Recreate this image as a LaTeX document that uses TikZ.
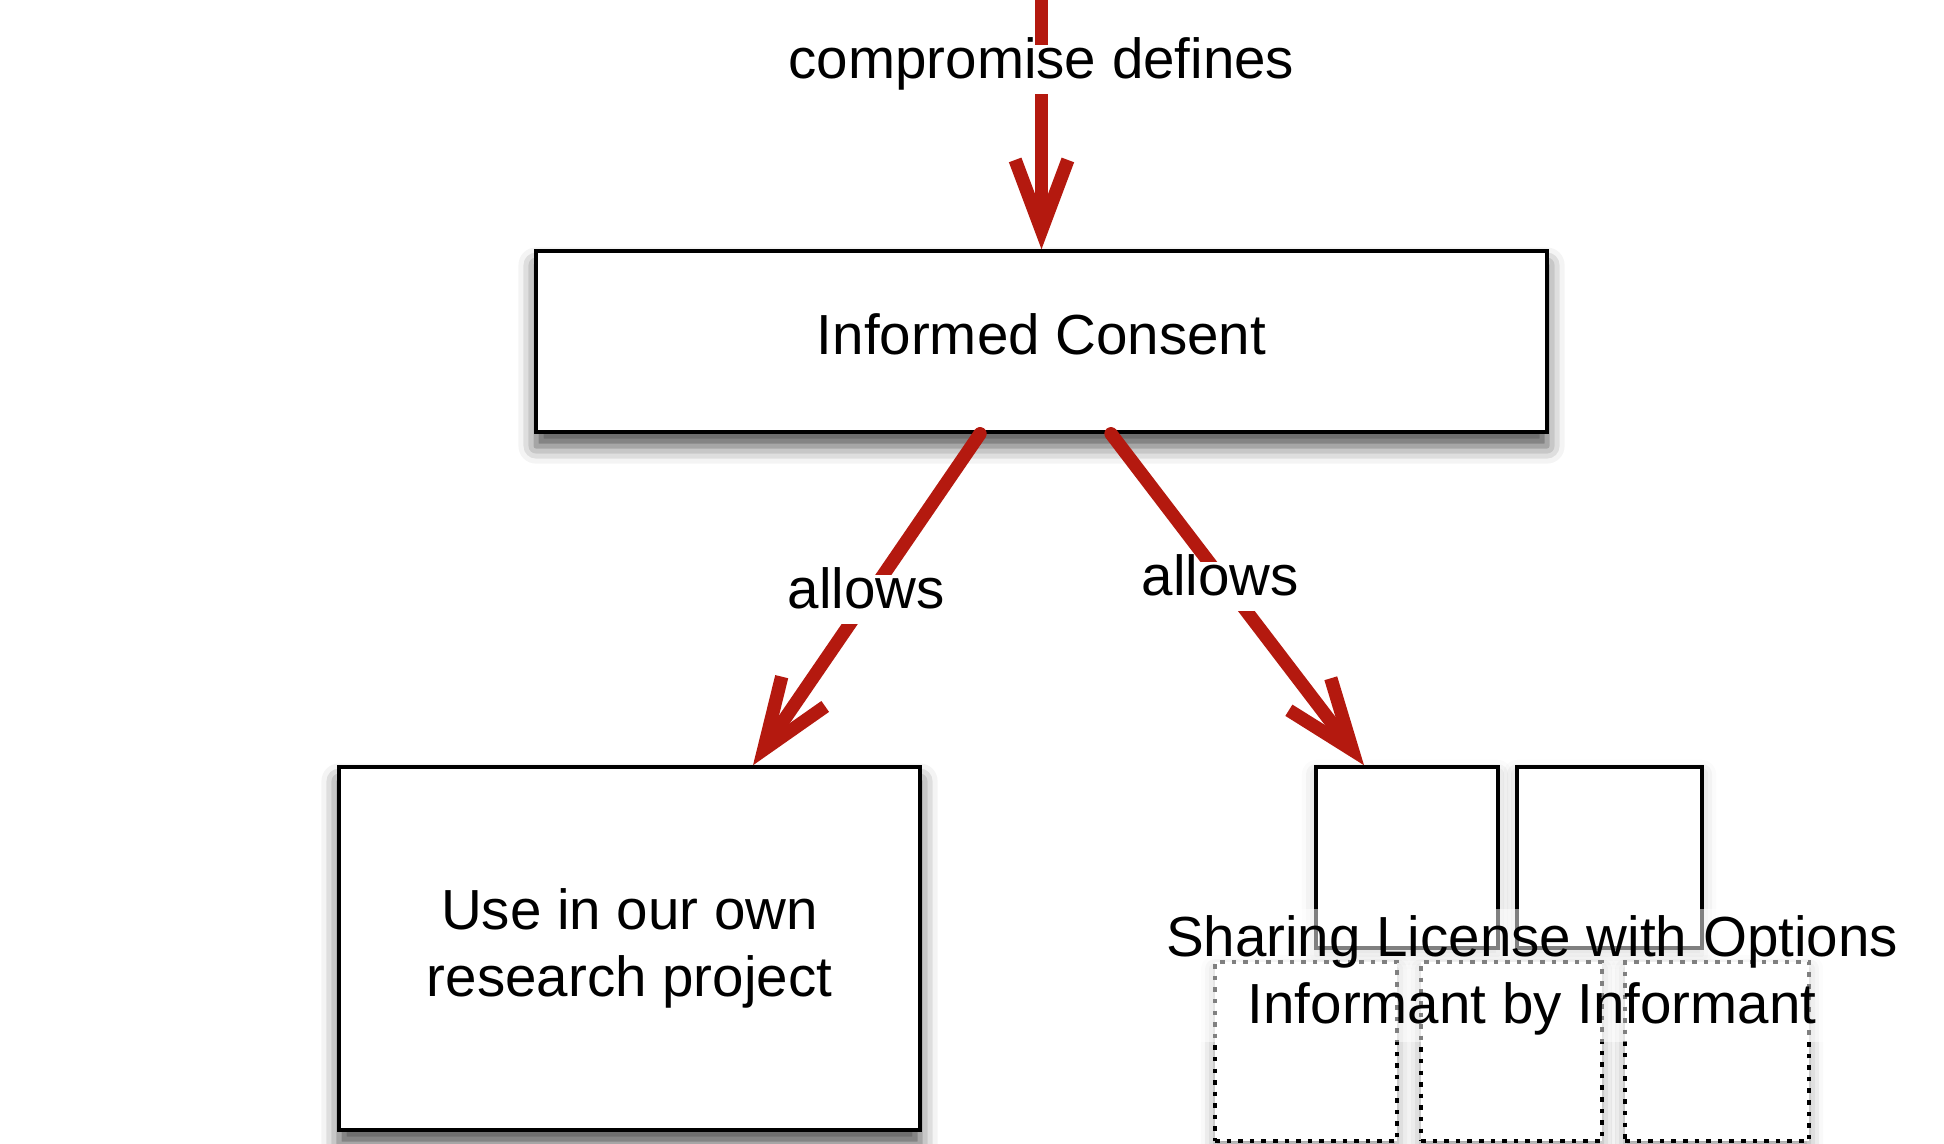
\documentclass[tikz,border=0pt]{standalone}
\usepackage{fontspec}
\setmainfont{Liberation Sans}
\usetikzlibrary{arrows.meta, shadows.blur}
\definecolor{arrowred}{RGB}{180,25,15}

\begin{document}
\begin{tikzpicture}[x=1cm, y=-1cm]
\tikzstyle{every node}=[font=\fontsize{16.08pt}{19.06pt}\selectfont]
\tikzstyle{box}=[draw, line width=1pt, fill=white, align=center,
    blur shadow={shadow xshift=0pt, shadow yshift=-4pt, shadow blur radius=5pt, shadow opacity=70}]
\tikzstyle{smallbox}=[draw, line width=1pt, fill=white, minimum width=1.82cm, minimum height=1.81cm,
    blur shadow={shadow xshift=0pt, shadow yshift=-2pt, shadow blur radius=4pt, shadow opacity=25}]
\tikzstyle{dotbox}=[draw, line width=1.1pt, dash pattern=on 1.3pt off 2pt, fill=white, minimum height=1.79cm,
    blur shadow={shadow xshift=0pt, shadow yshift=-2pt, shadow blur radius=4pt, shadow opacity=40}]
\tikzstyle{rel}=[draw=arrowred, line width=3.8pt, line cap=round, -{Straight Barb[length=20pt, width=15pt]}]
\tikzstyle{lbl}=[fill=white, inner sep=2pt, text height=0.75em, text depth=0.25em]

\useasboundingbox (0, 0) rectangle (19.44, 11.44);

\coordinate (top) at (10.415, 0);
\node[box, text height=0.75em, text depth=0.02em, minimum width=10.11cm, minimum height=1.81cm] (ic) at (10.415, 3.415) {Informed Consent};
\node[box, minimum width=5.81cm, minimum height=3.63cm] (use) at (6.295, 9.485) {Use in our own\\research project};

% sharing license: two boxes above, three dotted ones below
\node[smallbox] (lic1) at (14.07, 8.575) {};
\node[smallbox, minimum width=1.85cm] (lic2) at (16.095, 8.575) {};
\foreach \x/\w/\n in {13.06/1.82/1, 15.115/1.81/2, 17.17/1.84/3}
    \node[dotbox, minimum width=\w cm] (opt\n) at (\x, 10.515) {};
\node[fill=white, fill opacity=0.5, text opacity=1, align=center, inner sep=2pt] (lic) at (15.32, 9.755)
    {Sharing License with Options\\Informant by Informant};

\draw[rel] (top) -- node[lbl, pos=0.28] {compromise defines} (ic.north);
\draw[rel] ([xshift=-0.615cm]ic.south) -- node[lbl, pos=0.5] {allows} ([xshift=1.235cm]use.north); % own use
\draw[rel] ([xshift=0.695cm]ic.south) -- node[lbl, pos=0.46, xshift=-0.07cm] {allows} ([xshift=-0.43cm]lic1.north); % sharing

\end{tikzpicture}
\end{document}
